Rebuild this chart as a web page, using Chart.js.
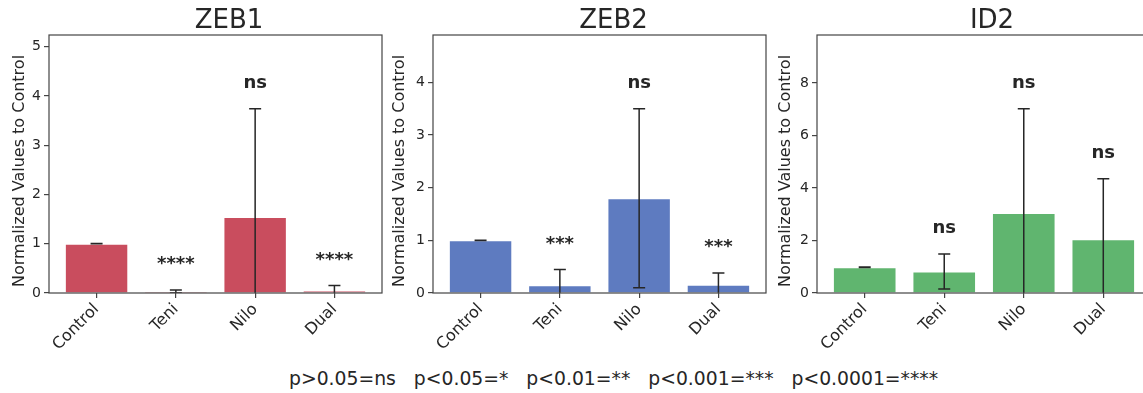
<!DOCTYPE html>
<html>
<head>
<meta charset="utf-8">
<script src="https://cdn.jsdelivr.net/npm/chart.js@4.4.1/dist/chart.umd.min.js"></script>
<style>
    html, body { margin: 0; padding: 0; background: #fff; overflow: hidden; }
    body { width: 1143px; height: 393px; position: relative; font-family: "DejaVu Sans", sans-serif; }
    canvas { position: absolute; top: 0; }
    #leyenda { position: absolute; left: 289px; top: 368px; font-size: 18.8px; color: #262626; white-space: pre; line-height: 22px; }
</style>
</head>
<body>
<canvas id="graficaZEB1" width="384" height="355" style="left:0px"></canvas>
<canvas id="graficaZEB2" width="383" height="355" style="left:385px"></canvas>
<canvas id="graficaID2" width="383" height="355" style="left:770px"></canvas>
<div id="leyenda">p&gt;0.05=ns   p&lt;0.05=*   p&lt;0.01=**   p&lt;0.001=***   p&lt;0.0001=****</div>

<script>
//--------Datos
const categorias = ["Control", "Teni", "Nilo", "Dual"]

const valoresZEB1 = [1.0, 0.03, 1.54, 0.05]
const erroresZEB1 = [0.003, 0.03, 2.2, 0.1]
const signifZEB1 = ["", "****", "ns", "****"]
const ticksZEB1 = [0, 1, 2, 3, 4, 5]

const valoresZEB2 = [1.0, 0.145, 1.8, 0.155]
const erroresZEB2 = [0.003, 0.3, 1.7, 0.225]
const signifZEB2 = ["", "***", "ns", "***"]
const ticksZEB2 = [0, 1, 2, 3, 4]

const valoresID2 = [0.98, 0.82, 3.05, 2.05]
const erroresID2 = [0.01, 0.67, 3.97, 2.3]
const signifID2 = ["", "ns", "ns", "ns"]
const ticksID2 = [0, 2, 4, 6, 8]

const tituloEjeY = "Normalized Values to Control"

const fuente = "DejaVu Sans"
const colorTexto = "#262626"
const colorEjes = "#444"


//--------Plugins
//Marco completo del area (arriba y derecha tambien, como matplotlib)
const pluginMarco = {
    id: "marco",
    afterDraw(chart) {
        const { ctx, chartArea } = chart
        ctx.save()
        ctx.strokeStyle = colorEjes
        ctx.lineWidth = 1.2
        ctx.strokeRect(chartArea.left, chartArea.top, chartArea.right - chartArea.left, chartArea.bottom - chartArea.top)
        ctx.restore()
    }
}

//Barras de error, asteriscos, titulo y etiqueta del eje Y
const pluginErrores = {
    id: "errores",
    afterDatasetsDraw(chart, args, opts) {
        const { ctx, chartArea } = chart
        const escalaX = chart.scales.x
        const escalaY = chart.scales.y

        ctx.save()
        ctx.beginPath()
        ctx.rect(chartArea.left, chartArea.top, chartArea.right - chartArea.left, chartArea.bottom - chartArea.top)
        ctx.clip()
        ctx.strokeStyle = colorTexto
        ctx.lineWidth = 1.5

        opts.valores.forEach((valor, i) => {
            const x = escalaX.getPixelForValue(i)
            const yArriba = escalaY.getPixelForValue(valor + opts.errores[i])
            const yAbajo = escalaY.getPixelForValue(valor - opts.errores[i])

            ctx.beginPath()
            ctx.moveTo(x, yArriba)
            ctx.lineTo(x, yAbajo)
            ctx.moveTo(x - 6, yArriba)
            ctx.lineTo(x + 6, yArriba)
            ctx.moveTo(x - 6, yAbajo)
            ctx.lineTo(x + 6, yAbajo)
            ctx.stroke()
        })
        ctx.restore()

        //Etiquetas de significancia
        ctx.save()
        ctx.fillStyle = colorTexto
        ctx.font = "bold 18px '" + fuente + "'"
        ctx.textAlign = "center"
        ctx.textBaseline = "alphabetic"
        opts.signif.forEach((texto, i) => {
            if (!texto) return
            const x = escalaX.getPixelForValue(i)
            const yArriba = escalaY.getPixelForValue(opts.valores[i] + opts.errores[i])
            ctx.fillText(texto, x, yArriba - 21)
        })

        //Titulo del panel
        ctx.font = "26px '" + fuente + "'"
        ctx.textBaseline = "middle"
        ctx.fillText(opts.titulo, (chartArea.left + chartArea.right) / 2 + opts.despTitulo, 21)

        //Etiqueta del eje Y (un poco por debajo del centro, como en el original)
        ctx.font = "16px '" + fuente + "'"
        ctx.translate(opts.xTituloY, (chartArea.top + chartArea.bottom) / 2 + 7)
        ctx.rotate(-Math.PI / 2)
        ctx.fillText(tituloEjeY, 0, 0)
        ctx.restore()
    }
}


//--------Generación de graficas
function crearPanel(idCanvas, titulo, valores, errores, signif, ticksY, color, anchoEjeY, xTituloY, despTitulo) {
    const maximoY = Math.max(...valores.map((v, i) => v + errores[i])) * 1.4

    const estiloGrid = {
        drawOnChartArea: false,
        drawTicks: true,
        offset: false,
        tickLength: 5,
        color: colorEjes,
        lineWidth: 1.2
    }

    return new Chart(document.getElementById(idCanvas), {
        type: "bar",
        data: {
            datasets: [{
                data: valores.map((v, i) => ({ x: i, y: v })),
                backgroundColor: color,
                borderColor: "rgba(255, 255, 255, 0.5)",
                borderWidth: 1,
                barPercentage: 0.8,
                categoryPercentage: 1.0
            }]
        },
        options: {
            responsive: false,
            animation: false,
            layout: { padding: { top: 35, right: 2, left: 0, bottom: 0 } },
            plugins: {
                legend: { display: false },
                tooltip: { enabled: false },
                errores: { valores: valores, errores: errores, signif: signif, titulo: titulo, despTitulo: despTitulo, xTituloY: xTituloY }
            },
            scales: {
                x: {
                    type: "linear",
                    offset: false,
                    min: -0.6,
                    max: 3.6,
                    afterBuildTicks: escala => { escala.ticks = categorias.map((c, i) => ({ value: i })) },
                    afterFit: escala => { escala.height = 62 },
                    ticks: {
                        callback: valor => categorias[valor],
                        minRotation: 45,
                        maxRotation: 45,
                        autoSkip: false,
                        padding: 2,
                        color: colorTexto,
                        font: { family: fuente, size: 16 }
                    },
                    grid: estiloGrid,
                    border: { display: false }
                },
                y: {
                    min: 0,
                    max: maximoY,
                    afterBuildTicks: escala => { escala.ticks = ticksY.map(v => ({ value: v })) },
                    afterFit: escala => { escala.width = anchoEjeY },
                    ticks: {
                        padding: 3,
                        color: colorTexto,
                        font: { family: fuente, size: 14 }
                    },
                    grid: estiloGrid,
                    border: { display: false }
                }
            }
        },
        plugins: [pluginErrores, pluginMarco]
    })
}

crearPanel("graficaZEB1", "ZEB1", valoresZEB1, erroresZEB1, signifZEB1, ticksZEB1, "#c94d5e", 49, 19.5, 13.5)
crearPanel("graficaZEB2", "ZEB2", valoresZEB2, erroresZEB2, signifZEB2, ticksZEB2, "#5e7bc0", 48, 14.5, 14)
crearPanel("graficaID2", "ID2", valoresID2, erroresID2, signifID2, ticksID2, "#60b56f", 47, 16, 8)
</script>
</body>
</html>
